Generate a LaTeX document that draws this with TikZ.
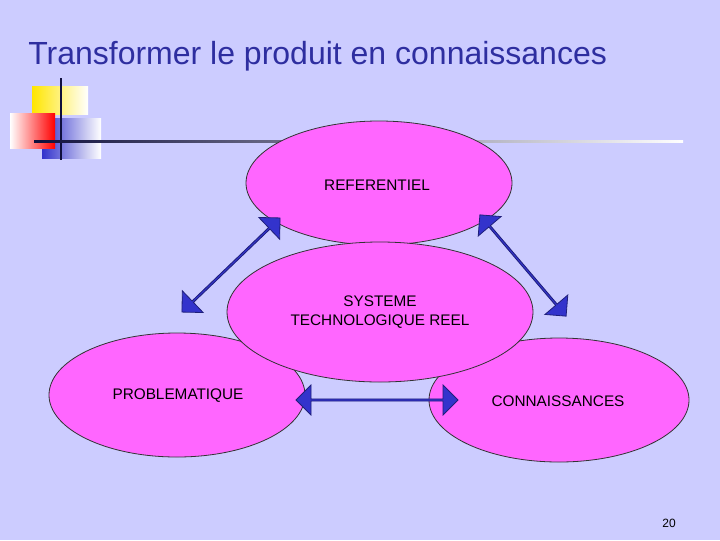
\documentclass[tikz,border=0pt]{standalone}
\usepackage{fontspec}
\setmainfont{Liberation Sans}
\usetikzlibrary{shapes.arrows}
\definecolor{bg}{HTML}{CCCCFF}
\definecolor{ttl}{HTML}{2E2EA0}
\definecolor{pink}{HTML}{FF66FF}
\definecolor{arr}{HTML}{3333CC}
\begin{document}
\begin{tikzpicture}[x=0.75pt,y=-0.75pt,
  ell/.style={draw=black!80,fill=pink,line width=0.6pt},
  lbl/.style={font=\fontsize{11.5}{14}\selectfont,align=center},
  dbl/.style={double arrow,draw=arr!60!black,fill=arr,line width=0.6pt,minimum height=#1*0.75pt,minimum width=22.5pt,double arrow head extend=4pt,inner sep=0pt}]
\fill[bg] (0,0) rectangle (720,540);
\useasboundingbox (0,0) rectangle (720,540);
\node[anchor=base west,text=ttl,font=\fontsize{24}{28}\selectfont,inner sep=0pt] (title) at (28,64) {Transformer le produit en connaissances};
% decoration
\shade[left color=yellow!80!orange,right color=white] (32,86) rectangle (88,114);
\shade[left color=arr,right color=white] (42,118) rectangle (101,158);
\shade[left color=white,right color=red] (10,113) rectangle (55,148);
\draw[line width=2.2pt,black!70!arr] (61,78) -- (61,160);
\shade[left color=black!70!arr,right color=white] (34,140) rectangle (683,142.5);
% ellipses
\draw[ell] (379,183) ellipse [x radius=133,y radius=62];
\draw[ell] (177,395) ellipse [x radius=128,y radius=62];
\draw[ell] (559,400) ellipse [x radius=130,y radius=62];
\draw[ell] (380,312) ellipse [x radius=153,y radius=70];
\node[lbl] (ref) at (377,185) {REFERENTIEL};
\node[lbl] (sys) at (380,312) {SYSTEME\\TECHNOLOGIQUE REEL};
\node[lbl] (prob) at (178,396) {PROBLEMATIQUE};
\node[lbl] (conn) at (558,401) {CONNAISSANCES};
% arrows
\node[dbl=136,rotate=43.8] (a1) at (231,265) {};
\node[dbl=133,rotate=130.4] (a2) at (523,265.5) {};
\node[dbl=162] (a3) at (377,400) {};
\node[font=\fontsize{9}{11}\selectfont] (pg) at (669,523) {20};
\end{tikzpicture}
\end{document}
